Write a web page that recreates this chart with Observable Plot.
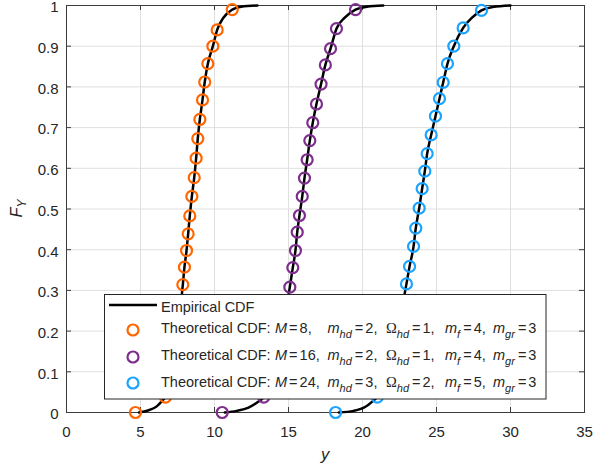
<!DOCTYPE html>
<html><head><meta charset="utf-8">
<script src="https://cdn.jsdelivr.net/npm/d3@7"></script>
<script src="https://cdn.jsdelivr.net/npm/@observablehq/plot@0.6"></script>
<style>body{margin:0;background:#fff}</style>
</head><body><div id="chart"></div>
<script>
// ---- data ----
const xTicks = [0, 5, 10, 15, 20, 25, 30, 35];
const yTicks = [0, 0.1, 0.2, 0.3, 0.4, 0.5, 0.6, 0.7, 0.8, 0.9, 1];
const seriesNames = ["M8", "M16", "M24"];
const seriesColors = ["#ff6600", "#7e2f8e", "#1aa3ff"];

// empirical CDF curves [y, F]
const emp8 = [[4.9,0],[5.5,0.005],[6.1,0.015],[6.5,0.03],[6.69,0.038],[7.86,0.314],[7.97,0.357],[8.11,0.398],[8.22,0.439],[8.33,0.483],[8.47,0.531],[8.63,0.577],[8.76,0.625],[8.87,0.673],[9.01,0.72],[9.19,0.768],[9.34,0.812],[9.55,0.857],[9.89,0.9],[10.18,0.94],[10.6,0.97],[11.2,0.99],[11.8,0.997],[12.9,1]];
const emp16 = [[10.7,0],[11.5,0.004],[12.3,0.012],[12.9,0.025],[13.33,0.038],[15.09,0.308],[15.29,0.356],[15.47,0.398],[15.59,0.443],[15.74,0.484],[15.93,0.531],[16.08,0.576],[16.26,0.621],[16.44,0.668],[16.64,0.712],[16.89,0.758],[17.2,0.807],[17.49,0.854],[17.84,0.894],[18.24,0.943],[18.8,0.97],[19.53,0.99],[20.3,0.997],[21.4,1]];
const emp24 = [[18.4,0],[19.4,0.004],[20.2,0.014],[20.7,0.028],[21.0,0.038],[22.97,0.316],[23.18,0.359],[23.45,0.408],[23.6,0.453],[23.83,0.502],[24.03,0.55],[24.21,0.593],[24.37,0.636],[24.64,0.682],[24.93,0.728],[25.2,0.771],[25.45,0.811],[25.74,0.857],[26.17,0.9],[26.8,0.945],[27.4,0.97],[28.04,0.988],[28.8,0.996],[30,1]];

// theoretical CDF samples [y, F]
const theo8 = [[4.66,0],[6.69,0.038],[7.86,0.314],[7.97,0.357],[8.11,0.398],[8.22,0.439],[8.33,0.483],[8.47,0.531],[8.63,0.577],[8.76,0.625],[8.87,0.673],[9.01,0.72],[9.19,0.768],[9.34,0.812],[9.55,0.857],[9.89,0.9],[10.18,0.94],[11.2,0.99]];
const theo16 = [[10.52,0],[13.33,0.038],[15.09,0.308],[15.29,0.356],[15.47,0.398],[15.59,0.443],[15.74,0.484],[15.93,0.531],[16.08,0.576],[16.26,0.621],[16.44,0.668],[16.64,0.712],[16.89,0.758],[17.2,0.807],[17.49,0.854],[17.84,0.894],[18.24,0.943],[19.53,0.99]];
const theo24 = [[18.18,0],[21.0,0.038],[22.97,0.316],[23.18,0.359],[23.45,0.408],[23.6,0.453],[23.83,0.502],[24.03,0.55],[24.21,0.593],[24.37,0.636],[24.64,0.682],[24.93,0.728],[25.2,0.771],[25.45,0.811],[25.74,0.857],[26.17,0.9],[26.8,0.945],[28.04,0.988]];

// legend parameters per series
const legendM = ["8", "16", "24"];
const legendMhd = ["2", "2", "3"];
const legendOhd = ["1", "1", "2"];
const legendMf = ["4", "4", "5"];
const legendMgr = ["3", "3", "3"];

// ---- tables ----
const tag = (arr, s) => arr.map(([x, y]) => ({x, y, s}));
const empData = [...tag(emp8, "M8"), ...tag(emp16, "M16"), ...tag(emp24, "M24")];
const theoData = [...tag(theo8, "M8"), ...tag(theo16, "M16"), ...tag(theo24, "M24")];

const FONT = "'Liberation Sans', Arial, Helvetica, sans-serif";
const AX = "#3c3c3c";
const W = 594, H = 474, mL = 66, mR = 10, mT = 5, mB = 62;
const pw = W - mL - mR, ph = H - mT - mB;
const fmt = d3.format("~g");

const plot = Plot.plot({
  width: W, height: H,
  marginLeft: mL, marginRight: mR, marginTop: mT, marginBottom: mB,
  style: {fontFamily: FONT, fontSize: "15px", color: "#262626", background: "white", overflow: "visible"},
  x: {domain: [0, 35], label: null},
  y: {domain: [0, 1], label: null},
  color: {domain: seriesNames, range: seriesColors},
  marks: [
    Plot.gridX(xTicks, {stroke: "#dfdfdf", strokeOpacity: 1}),
    Plot.gridY(yTicks, {stroke: "#dfdfdf", strokeOpacity: 1}),
    Plot.frame({stroke: AX}),
    Plot.tickX(xTicks, {x: d => d, insetTop: ph - 5, stroke: AX}),
    Plot.tickX(xTicks, {x: d => d, insetBottom: ph - 5, stroke: AX}),
    Plot.tickY(yTicks, {y: d => d, insetRight: pw - 5, stroke: AX}),
    Plot.tickY(yTicks, {y: d => d, insetLeft: pw - 5, stroke: AX}),
    Plot.axisX(xTicks, {tickSize: 0, tickPadding: 14, tickFormat: fmt, fontSize: 15, fill: "#262626", label: null}),
    Plot.axisY(yTicks, {tickSize: 0, tickPadding: 8, dy: 2, tickFormat: fmt, fontSize: 15, fill: "#262626", label: null}),
    Plot.line(empData, {x: "x", y: "y", z: "s", stroke: "black", strokeWidth: 2.5, curve: "monotone-x"}),
    Plot.dot(theoData, {x: "x", y: "y", stroke: "s", r: 5.5, strokeWidth: 2.2, fill: "none"})
  ]
});

const svg = d3.select(plot);
// axis labels
svg.append("text").attr("x", mL + pw / 2).attr("y", 460).attr("text-anchor", "middle")
  .attr("font-family", FONT).attr("font-size", 16.5).attr("font-style", "italic").attr("fill", "#262626").text("y");
const yl = svg.append("text").attr("transform", `translate(22,${mT + ph / 2}) rotate(-90)`).attr("text-anchor", "middle")
  .attr("font-family", FONT).attr("font-size", 16.5).attr("font-style", "italic").attr("fill", "#262626");
yl.append("tspan").text("F");
yl.append("tspan").attr("dy", 4).attr("font-size", 12).text("Y");

// legend
const lg = svg.append("g").attr("font-family", FONT).attr("fill", "#262626").attr("text-anchor", "start");
lg.append("rect").attr("x", 104.5).attr("y", 294.5).attr("width", 441.5).attr("height", 104.5)
  .attr("fill", "white").attr("stroke", "#262626").attr("stroke-width", 1);
lg.append("line").attr("x1", 109).attr("x2", 157).attr("y1", 305).attr("y2", 305)
  .attr("stroke", "black").attr("stroke-width", 2.5);
lg.append("text").attr("x", 161).attr("y", 311.5).attr("font-size", 14.5).text("Empirical CDF");
const rowCy = [330, 357, 383];
const rowBase = [333, 360, 387];
seriesNames.forEach((s, i) => {
  lg.append("circle").attr("cx", 133).attr("cy", rowCy[i]).attr("r", 5.5)
    .attr("fill", "none").attr("stroke", seriesColors[i]).attr("stroke-width", 2.2);
  const t = lg.append("text").attr("y", rowBase[i]).attr("font-size", 14.5);
  const sp = (txt, o = {}) => {
    const ts = t.append("tspan").text(txt);
    for (const k in o) ts.attr(k, o[k]);
    return ts;
  };
  sp("Theoretical CDF:", {x: 161});
  sp("M", {x: 275, "font-style": "italic"});
  sp("=", {dx: 2}); sp(legendM[i] + ",", {dx: 2});
  const param = (x, sym, sub, val, last, serif) => {
    sp(sym, serif ? {x, "font-family": "'Liberation Serif', 'DejaVu Serif', serif"} : {x, "font-style": "italic"});
    sp(sub, {dy: 4.5, "font-size": 11, "font-style": "italic"});
    sp("=", {dy: -4.5, dx: 3});
    sp(val + (last ? "" : ","), {dx: 2});
  };
  param(327.5, "m", "hd", legendMhd[i], false);
  param(386, "\u03A9", "hd", legendOhd[i], false, true);
  param(445, "m", "f", legendMf[i], false);
  param(493, "m", "gr", legendMgr[i], true);
});

document.getElementById("chart").appendChild(plot);
</script>
</body></html>
